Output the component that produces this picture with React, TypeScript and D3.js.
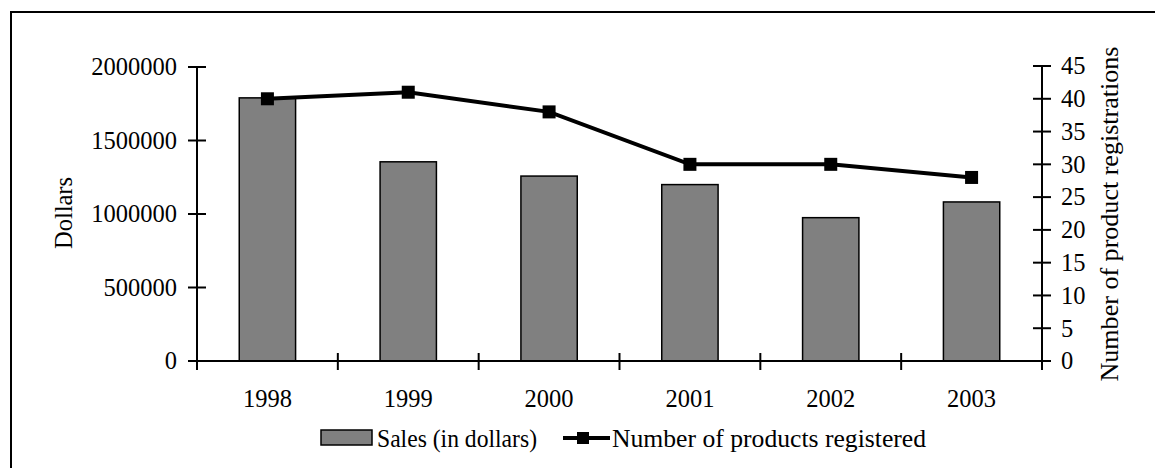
import React from "react";
import * as d3 from "d3";

const categories = ["1998", "1999", "2000", "2001", "2002", "2003"];
const sales = [1790000, 1355000, 1258000, 1200000, 975000, 1082000];
const registrations = [40, 41, 38, 30, 30, 28];
const leftTicks = [0, 500000, 1000000, 1500000, 2000000];
const rightTicks = [0, 5, 10, 15, 20, 25, 30, 35, 40, 45];

const W = 1155;
const H = 468;
const FONT = "Liberation Serif, DejaVu Serif, serif";

export default function App() {
  const x = d3.scaleBand<string>().domain(categories).range([197, 1042]).paddingInner(0).paddingOuter(0);
  const yL = d3.scaleLinear().domain([0, 2000000]).range([361, 67]);
  const yR = d3.scaleLinear().domain([0, 45]).range([361, 66]);
  const bw = x.bandwidth() * 0.4;
  const line = d3
    .line<number>()
    .x((_, i) => (x(categories[i]) as number) + x.bandwidth() / 2)
    .y((d) => yR(d));
  const boundaries = d3.range(categories.length + 1).map((i) => 197 + i * x.bandwidth());
  const fs = 24.5;
  const ts = { fontFamily: FONT, fontSize: fs, fill: "#000" } as React.CSSProperties;

  return (
    <svg width={W} height={H} style={{ position: "absolute", left: 0, top: 0, background: "#fff", fontFamily: FONT }}>
      <rect x={11} y={12} width={W + 20} height={H + 20} fill="#fff" stroke="#000" strokeWidth={2} />
      {sales.map((v, i) => {
        const cx = (x(categories[i]) as number) + x.bandwidth() / 2;
        return (
          <rect key={i} x={cx - bw / 2} y={yL(v)} width={bw} height={yL(0) - yL(v)} fill="#808080" stroke="#000" strokeWidth={1.5} />
        );
      })}
      <line x1={197} x2={1042} y1={361} y2={361} stroke="#000" strokeWidth={2} />
      {boundaries.map((b, i) => (
        <line key={i} x1={b} x2={b} y1={353} y2={370} stroke="#000" strokeWidth={2} />
      ))}
      {categories.map((c) => (
        <text key={c} x={(x(c) as number) + x.bandwidth() / 2} y={406.5} textAnchor="middle" style={ts}>
          {c}
        </text>
      ))}
      <line x1={197} x2={197} y1={66} y2={370} stroke="#000" strokeWidth={2} />
      {leftTicks.map((t) => (
        <g key={t}>
          <line x1={188} x2={206} y1={yL(t)} y2={yL(t)} stroke="#000" strokeWidth={2} />
          <text x={177} y={yL(t)} dy="0.34em" textAnchor="end" style={ts}>
            {t}
          </text>
        </g>
      ))}
      <text transform={`translate(72,213) rotate(-90)`} textAnchor="middle" style={ts}>
        Dollars
      </text>
      <line x1={1042} x2={1042} y1={66} y2={370} stroke="#000" strokeWidth={2} />
      {rightTicks.map((t) => (
        <g key={t}>
          <line x1={1033} x2={1051} y1={yR(t)} y2={yR(t)} stroke="#000" strokeWidth={2} />
          <text x={1061} y={yR(t)} dy="0.34em" textAnchor="start" style={ts}>
            {t}
          </text>
        </g>
      ))}
      <text
        transform={`translate(1118,214) rotate(-90)`}
        textAnchor="middle"
        textLength={335}
        lengthAdjust="spacingAndGlyphs"
        style={ts}
      >
        Number of product registrations
      </text>
      <path d={line(registrations) as string} fill="none" stroke="#000" strokeWidth={4} />
      {registrations.map((v, i) => {
        const cx = (x(categories[i]) as number) + x.bandwidth() / 2;
        return <rect key={i} x={cx - 6.5} y={yR(v) - 6.5} width={13} height={13} fill="#000" />;
      })}
      <rect x={321} y={430} width={51} height={15} fill="#808080" stroke="#000" strokeWidth={1.5} />
      <text x={377} y={447} textLength={160} lengthAdjust="spacingAndGlyphs" style={ts}>
        Sales (in dollars)
      </text>
      <line x1={563} x2={610} y1={438} y2={438} stroke="#000" strokeWidth={4} />
      <rect x={577} y={432} width={12} height={12} fill="#000" />
      <text x={612} y={447} textLength={314} lengthAdjust="spacingAndGlyphs" style={ts}>
        Number of products registered
      </text>
    </svg>
  );
}
